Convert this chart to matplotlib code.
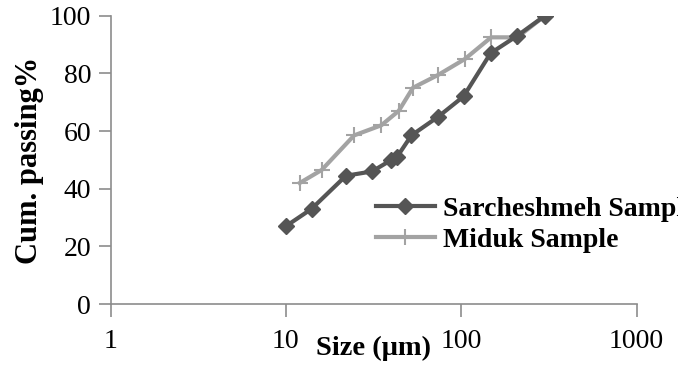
import matplotlib
matplotlib.use("Agg")
import matplotlib.pyplot as plt

# particle size distributions
sar_size = [10, 14, 22, 31, 40, 43, 52, 74, 103, 147, 208, 300]
sar_pass = [27, 33, 44.5, 46, 50, 51, 58.5, 65, 72, 87, 93, 100]
mid_size = [12, 16, 24.5, 35, 44, 53, 74, 105, 148, 209, 300]
mid_pass = [42, 46.5, 58.5, 62, 67, 75, 79.5, 85, 92.5, 92.5, 100]

x_ticks = [1, 10, 100, 1000]
y_ticks = [0, 20, 40, 60, 80, 100]

plt.rcParams['font.family'] = ['Liberation Serif', 'DejaVu Serif']
axis_col = '#8c8c8c'

fig = plt.figure(figsize=(6.78, 3.74), dpi=100)
ax = fig.add_axes([0.163, 0.187, 0.776, 0.771])

ax.plot(sar_size, sar_pass, color='#555555', lw=3, marker='D', ms=8,
        label='Sarcheshmeh Sample', zorder=3)
ax.plot(mid_size, mid_pass, color='#a3a3a3', lw=3, marker='+', ms=11, mew=1.5,
        label='Miduk Sample', zorder=2)

ax.set_xscale('log')
ax.set_xlim(1, 1000)
ax.set_ylim(0, 100)
ax.set_xticks(x_ticks)
ax.set_xticklabels([str(t) for t in x_ticks])
ax.minorticks_off()
ax.set_yticks(y_ticks)

for s in ['top', 'right']:
    ax.spines[s].set_visible(False)
for s in ['left', 'bottom']:
    ax.spines[s].set_color(axis_col)
    ax.spines[s].set_linewidth(1.2)
ax.tick_params(axis='both', colors=axis_col, labelcolor='black', labelsize=20,
               length=9, width=1.2)
ax.tick_params(axis='x', pad=9)
ax.tick_params(axis='y', pad=5)

ax.set_xlabel('Size (μm)', fontsize=20.5, fontweight='bold', labelpad=-13)
ax.set_ylabel('Cum. passing%', fontsize=22, fontweight='bold', labelpad=4)

leg = ax.legend(loc='upper left', bbox_to_anchor=(0.484, 0.413), frameon=False,
                prop={'size': 20, 'weight': 'bold'}, handlelength=2.1,
                handletextpad=0.3, labelspacing=0.2, borderaxespad=0)

fig.savefig('out.png', dpi=100)
